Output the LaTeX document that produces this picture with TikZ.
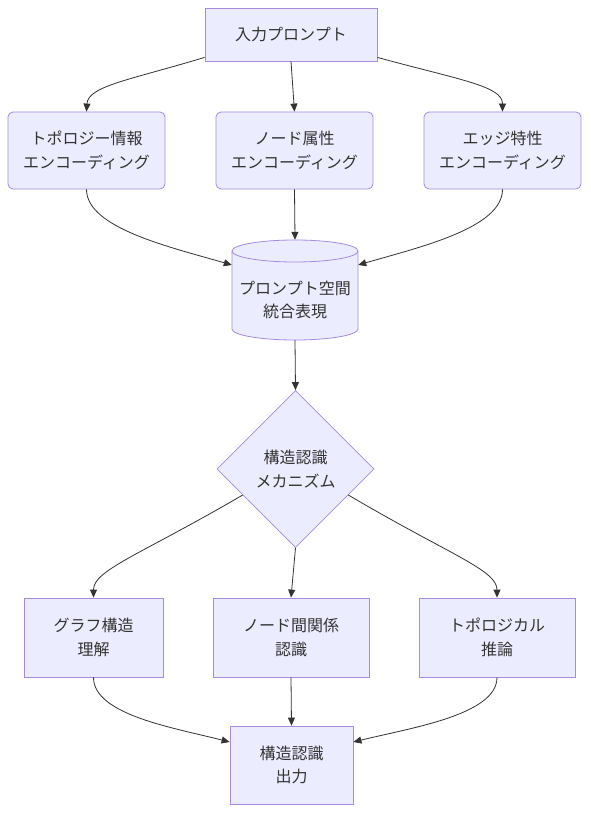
\documentclass[tikz,border=0pt]{standalone}
\usepackage{fontspec}
\setmainfont{Noto Sans CJK JP}
\usetikzlibrary{shapes.geometric,arrows.meta,calc}
\definecolor{nodefill}{HTML}{ECECFF}
\definecolor{nodeline}{HTML}{A58AE0}
\definecolor{edgec}{HTML}{333333}
\begin{document}
\begin{tikzpicture}[x=1pt,y=-1pt,
  txt/.style={text=edgec,font=\fontsize{16}{23.5}\selectfont,align=center,inner sep=0},
  box/.style={txt,draw=nodeline,fill=nodefill,line width=0.8pt},
  rbox/.style={box,rounded corners=5pt},
  dia/.style={txt,shape=diamond,draw=nodeline,fill=nodefill,line width=0.8pt,minimum width=157,minimum height=157,aspect=1},
  arr/.style={draw=edgec,line width=0.8pt,-{Triangle[length=8pt,width=7pt]}}]
\useasboundingbox (0,0) rectangle (590,813);
\fill[white] (0,0) rectangle (590,813);
% nodes
\node[box,minimum width=172,minimum height=53] (in) at (291,34.5) {入力プロンプト};
\node[rbox,minimum width=157,minimum height=77] (t1) at (86.5,150.5) {トポロジー情報\\エンコーディング};
\node[rbox,minimum width=157,minimum height=77] (t2) at (294.5,150.5) {ノード属性\\エンコーディング};
\node[rbox,minimum width=157,minimum height=77] (t3) at (502.5,150.5) {エッジ特性\\エンコーディング};
% cylinder
\node[minimum width=126,minimum height=100,inner sep=0] (cyl) at (295,290) {};
\filldraw[fill=nodefill,draw=nodeline,line width=0.8pt]
  (232,329) arc[start angle=180,end angle=0,x radius=63,y radius=11]
  -- (358,251) arc[start angle=0,end angle=-180,x radius=63,y radius=11] -- cycle;
\draw[draw=nodeline,line width=0.8pt] (232,251) arc[start angle=180,end angle=0,x radius=63,y radius=11];
\node[txt] (cyllab) at (295,300) {プロンプト空間\\統合表現};
\node[dia] (dm) at (295.5,469) {構造認識\\メカニズム};
\node[box,minimum width=139,minimum height=79] (b1) at (93.5,637.5) {グラフ構造\\理解};
\node[box,minimum width=156,minimum height=79] (b2) at (291,637.5) {ノード間関係\\認識};
\node[box,minimum width=156,minimum height=79] (b3) at (497,637.5) {トポロジカル\\推論};
\node[box,minimum width=123,minimum height=78] (out) at (291.5,765) {構造認識\\出力};
% edges
\draw[arr] ($(in.south west)+(0,-4)$) .. controls (130,80) and (88,86) .. (t1.north);
\draw[arr] (in.south) -- (t2.north);
\draw[arr] ($(in.south east)+(0,-4)$) .. controls (460,80) and (502.5,86) .. (t3.north);
\draw[arr] (t1.south) .. controls (86.5,228) and (170,247) .. ($(cyl.west)+(0,-25)$);
\draw[arr] (t2.south) -- (cyl.north);
\draw[arr] (t3.south) .. controls (502.5,228) and (420,247) .. ($(cyl.east)+(0,-25)$);
\draw[arr] (cyl.south) -- (dm.north);
\draw[arr] ($(dm.west)!0.33!(dm.south)$) .. controls (140,555) and (93.5,570) .. (b1.north);
\draw[arr] (dm.south) -- (b2.north);
\draw[arr] ($(dm.east)!0.33!(dm.south)$) .. controls (450,555) and (497,570) .. (b3.north);
\draw[arr] (b1.south) .. controls (93.5,715) and (175,728) .. ($(out.west)+(0,-23)$);
\draw[arr] (b2.south) -- (out.north);
\draw[arr] (b3.south) .. controls (497,715) and (410,728) .. ($(out.east)+(0,-23)$);
\end{tikzpicture}
\end{document}
